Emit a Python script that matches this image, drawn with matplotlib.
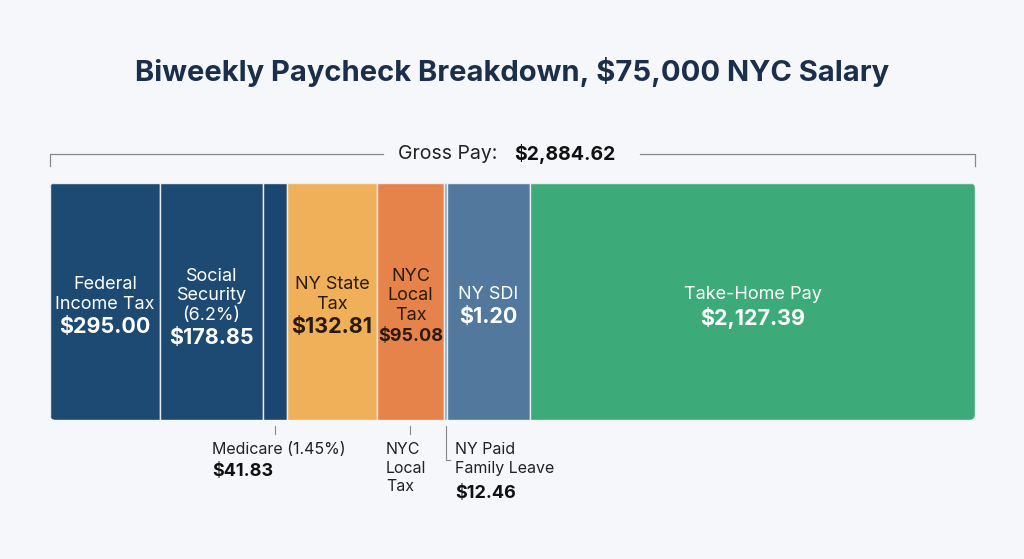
import matplotlib.pyplot as plt
from matplotlib.patches import FancyBboxPatch, Rectangle

# data
labels = ["Federal\nIncome Tax", "Social\nSecurity\n(6.2%)", "Medicare (1.45%)", "NY State\nTax",
          "NYC\nLocal\nTax", "NY Paid\nFamily Leave", "NY SDI", "Take-Home Pay"]
values = [295.00, 178.85, 41.83, 132.81, 95.08, 12.46, 1.20, 2127.39]
display_w = [110, 103, 24, 90, 67, 3, 83, 445]   # drawn widths (not proportional)
colors = ["#1d4a72", "#1d4a72", "#1b4670", "#f0b05a", "#e5834a", "#8aa6c1", "#52789d", "#3dab79"]
inside = [True, True, False, True, True, False, True, True]
gross = 2884.62

plt.rcParams['font.family'] = ['Inter', 'DejaVu Sans']
fig = plt.figure(figsize=(10.24, 5.59), dpi=100)
fig.patch.set_facecolor("#f5f7fa")
ax = fig.add_axes([0, 0, 1, 1])
ax.set_xlim(0, 1024)
ax.set_ylim(559, 0)
ax.axis("off")

ax.text(512, 72, "Biweekly Paycheck Breakdown, $75,000 NYC Salary", ha="center", va="center",
        fontsize=21, fontweight="bold", color="#1b2f4b")

x0, y0, h = 50, 183, 237
total = sum(display_w)
# gross bracket
ax.plot([x0, x0, 383], [166, 154, 154], color="#888", lw=0.9)
ax.plot([640, x0 + total, x0 + total], [154, 154, 166], color="#888", lw=0.9)
ax.text(398, 154, "Gross Pay:", ha="left", va="center", fontsize=14, color="#222")
ax.text(514, 154, f"${gross:,.2f}", ha="left", va="center", fontsize=14, color="#111", fontweight="bold")

clip = FancyBboxPatch((x0, y0), total, h, boxstyle="round,pad=0,rounding_size=6",
                      transform=ax.transData, facecolor="none", edgecolor="none")
ax.add_patch(clip)

value_top = {1: 307, 2: 317, 3: 328}
x = x0
for lab, v, w, c, ins in zip(labels, values, display_w, colors, inside):
    r = Rectangle((x, y0), w, h, facecolor=c, edgecolor="#e8eef3", lw=1)
    ax.add_patch(r)
    r.set_clip_path(clip)
    cx = x + w / 2
    dark = c in ("#f0b05a", "#e5834a")
    tc = "#2a1a0a" if dark else "white"
    if ins:
        nlines = lab.count("\n") + 1
        vs = 13 if w < 80 else 15.5
        vt = value_top[nlines]
        ax.text(cx, vt - 4, lab, ha="center", va="bottom",
                fontsize=13, color=tc, linespacing=1.2)
        ax.text(cx, vt, f"${v:,.2f}", ha="center", va="top",
                fontsize=vs, fontweight="bold", color=tc)
    x += w

# outside labels
ax.plot([275, 275], [426, 434], color="#888", lw=0.8)
ax.text(212, 442, labels[2], ha="left", va="top", fontsize=11.5, color="#222")
ax.text(212, 463, f"${values[2]:,.2f}", ha="left", va="top", fontsize=13, fontweight="bold", color="#111")
ax.plot([410, 410], [426, 434], color="#888", lw=0.8)
ax.text(386, 442, "NYC\nLocal\nTax", ha="left", va="top", fontsize=11.5, color="#222", linespacing=1.3)
ax.plot([446, 446, 450], [426, 460, 460], color="#888", lw=0.8)
ax.text(455, 442, labels[5], ha="left", va="top", fontsize=11.5, color="#222", linespacing=1.3)
ax.text(455, 485, f"${values[5]:,.2f}", ha="left", va="top", fontsize=13, fontweight="bold", color="#111")

fig.savefig("out.png", dpi=100, facecolor=fig.get_facecolor())
